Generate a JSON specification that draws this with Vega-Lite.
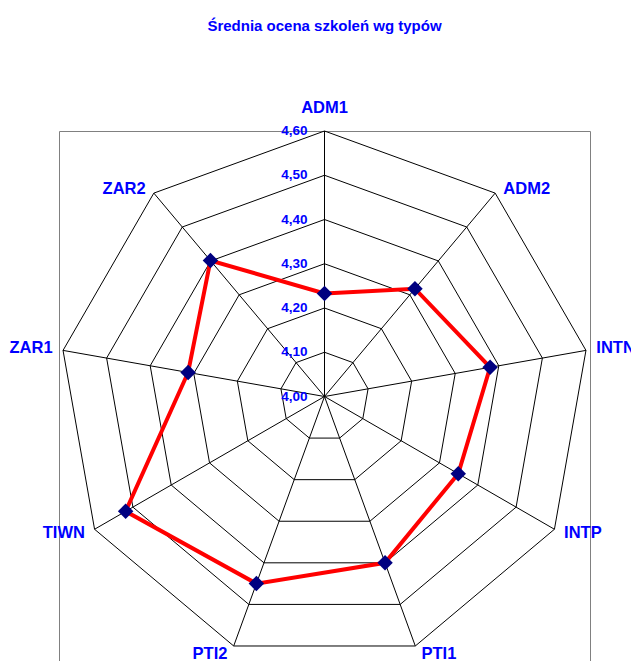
{
  "$schema": "https://vega.github.io/schema/vega-lite/v6.json",
  "autosize": "none",
  "width": 531,
  "height": 531,
  "padding": {"left": 59, "top": 131, "right": 41, "bottom": -1},
  "background": "white",
  "title": {
    "text": "Średnia ocena szkoleń wg typów",
    "font": "Liberation Sans",
    "fontSize": 15,
    "fontWeight": "bold",
    "color": "#0000ff",
    "anchor": "middle",
    "frame": "group",
    "baseline": "alphabetic",
    "offset": 54
  },
  "config": {"view": {"stroke": "#808080", "strokeWidth": 1}},
  "datasets": {
    "oceny": [
      {"typ": "ADM1", "ocena": 4.233, "poziomy": [4.1, 4.2, 4.3, 4.4, 4.5, 4.6]},
      {"typ": "ADM2", "ocena": 4.318, "poziomy": [4.1, 4.2, 4.3, 4.4, 4.5, 4.6]},
      {"typ": "INTN", "ocena": 4.380, "poziomy": [4.1, 4.2, 4.3, 4.4, 4.5, 4.6]},
      {"typ": "INTP", "ocena": 4.349, "poziomy": [4.1, 4.2, 4.3, 4.4, 4.5, 4.6]},
      {"typ": "PTI1", "ocena": 4.400, "poziomy": [4.1, 4.2, 4.3, 4.4, 4.5, 4.6]},
      {"typ": "PTI2", "ocena": 4.450, "poziomy": [4.1, 4.2, 4.3, 4.4, 4.5, 4.6]},
      {"typ": "TIWN", "ocena": 4.519, "poziomy": [4.1, 4.2, 4.3, 4.4, 4.5, 4.6]},
      {"typ": "ZAR1", "ocena": 4.313, "poziomy": [4.1, 4.2, 4.3, 4.4, 4.5, 4.6]},
      {"typ": "ZAR2", "ocena": 4.401, "poziomy": [4.1, 4.2, 4.3, 4.4, 4.5, 4.6]}
    ],
    "skala": [
      {"poziom": 4.0, "etykieta": "4,00"},
      {"poziom": 4.1, "etykieta": "4,10"},
      {"poziom": 4.2, "etykieta": "4,20"},
      {"poziom": 4.3, "etykieta": "4,30"},
      {"poziom": 4.4, "etykieta": "4,40"},
      {"poziom": 4.5, "etykieta": "4,50"},
      {"poziom": 4.6, "etykieta": "4,60"}
    ]
  },
  "resolve": {"scale": {"x": "shared", "y": "shared"}},
  "layer": [
    {
      "data": {"name": "oceny"},
      "transform": [
        {"window": [{"op": "row_number", "as": "nr"}]},
        {"calculate": "(datum.nr - 1) * 2 * PI / 9", "as": "kat"},
        {"flatten": ["poziomy"], "as": ["poziom"]},
        {"calculate": "(datum.poziom - 4) * sin(datum.kat)", "as": "px"},
        {"calculate": "(datum.poziom - 4) * cos(datum.kat)", "as": "py"}
      ],
      "mark": {"type": "line", "interpolate": "linear-closed", "color": "#000000", "strokeWidth": 1},
      "encoding": {
        "x": {"field": "px", "type": "quantitative", "scale": {"domain": [-0.6, 0.6], "nice": false, "zero": false}, "axis": null},
        "y": {"field": "py", "type": "quantitative", "scale": {"domain": [-0.6, 0.6], "nice": false, "zero": false}, "axis": null},
        "detail": {"field": "poziom", "type": "quantitative"},
        "order": {"field": "nr", "type": "quantitative"}
      }
    },
    {
      "data": {"name": "oceny"},
      "transform": [
        {"window": [{"op": "row_number", "as": "nr"}]},
        {"calculate": "(datum.nr - 1) * 2 * PI / 9", "as": "kat"},
        {"calculate": "0.6 * sin(datum.kat)", "as": "ox"},
        {"calculate": "0.6 * cos(datum.kat)", "as": "oy"}
      ],
      "mark": {"type": "rule", "color": "#000000", "strokeWidth": 1},
      "encoding": {
        "x": {"field": "ox", "type": "quantitative"},
        "y": {"field": "oy", "type": "quantitative"},
        "x2": {"datum": 0},
        "y2": {"datum": 0}
      }
    },
    {
      "data": {"name": "oceny"},
      "transform": [
        {"window": [{"op": "row_number", "as": "nr"}]},
        {"calculate": "(datum.nr - 1) * 2 * PI / 9", "as": "kat"},
        {"calculate": "(datum.ocena - 4) * sin(datum.kat)", "as": "vx"},
        {"calculate": "(datum.ocena - 4) * cos(datum.kat)", "as": "vy"}
      ],
      "layer": [
        {
          "mark": {"type": "line", "interpolate": "linear-closed", "color": "#ff0000", "strokeWidth": 4},
          "encoding": {
            "x": {"field": "vx", "type": "quantitative"},
            "y": {"field": "vy", "type": "quantitative"},
            "order": {"field": "nr", "type": "quantitative"}
          }
        },
        {
          "mark": {"type": "point", "shape": "diamond", "filled": true, "color": "#000080", "opacity": 1, "size": 240},
          "encoding": {
            "x": {"field": "vx", "type": "quantitative"},
            "y": {"field": "vy", "type": "quantitative"}
          }
        }
      ]
    },
    {
      "data": {"name": "oceny"},
      "transform": [
        {"window": [{"op": "row_number", "as": "nr"}]},
        {"calculate": "(datum.nr - 1) * 2 * PI / 9", "as": "kat"},
        {"calculate": "sin(datum.kat)", "as": "sx"},
        {"calculate": "cos(datum.kat)", "as": "cy"},
        {"calculate": "0.6 * datum.sx + (datum.sx > 0.01 ? 1 : datum.sx < -0.01 ? -1 : 0) * (4 + 6.5 * abs(datum.sx)) * 1.2 / 531", "as": "lx"},
        {"calculate": "0.6 * datum.cy - (datum.cy > 0.9 ? -18 : datum.cy > 0.6 ? 1 : datum.cy < -0.6 ? 0 : datum.cy > 0 ? -2 : 4) * 1.2 / 531", "as": "ly"}
      ],
      "mark": {
        "type": "text",
        "font": "Liberation Sans",
        "fontSize": 16.5,
        "fontWeight": "bold",
        "color": "#0000ff",
        "align": {"expr": "datum.sx > 0.01 ? 'left' : datum.sx < -0.01 ? 'right' : 'center'"},
        "baseline": {"expr": "datum.cy > 0.6 ? 'alphabetic' : datum.cy < -0.6 ? 'top' : 'middle'"}
      },
      "encoding": {
        "x": {"field": "lx", "type": "quantitative"},
        "y": {"field": "ly", "type": "quantitative"},
        "text": {"field": "typ", "type": "nominal"}
      }
    },
    {
      "data": {"name": "skala"},
      "transform": [
        {"calculate": "datum.poziom - 4", "as": "sy"}
      ],
      "mark": {
        "type": "text",
        "font": "Liberation Sans",
        "fontSize": 13.5,
        "fontWeight": "bold",
        "color": "#0000ff",
        "align": "right",
        "baseline": "middle",
        "dx": -17
      },
      "encoding": {
        "x": {"datum": 0},
        "y": {"field": "sy", "type": "quantitative"},
        "text": {"field": "etykieta", "type": "nominal"}
      }
    }
  ]
}
